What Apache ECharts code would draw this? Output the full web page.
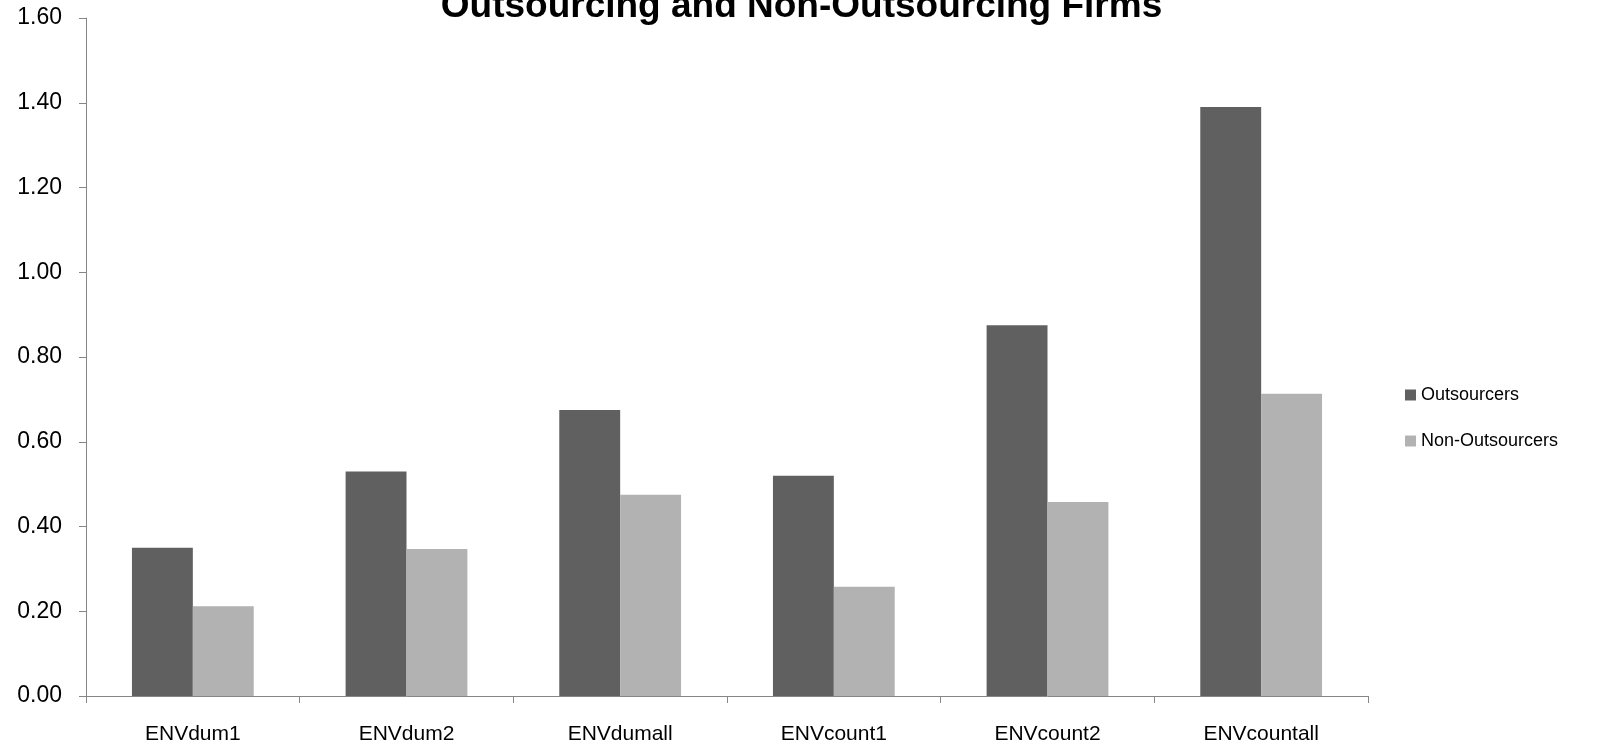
<!DOCTYPE html>
<html>
<head>
<meta charset="utf-8">
<script src="https://cdn.jsdelivr.net/npm/echarts@6/dist/echarts.min.js"></script>
<style>html,body{margin:0;padding:0;background:#fff;}#c{width:1603px;height:751px;}</style>
</head>
<body>
<div id="c"></div>
<script>
const categories = ['ENVdum1','ENVdum2','ENVdumall','ENVcount1','ENVcount2','ENVcountall'];
const outsourcers = [0.35, 0.53, 0.675, 0.52, 0.875, 1.39];
const nonOutsourcers = [0.212, 0.347, 0.475, 0.258, 0.458, 0.713];
const seriesNames = ['Outsourcers','Non-Outsourcers'];
const titleText = 'Outsourcing and Non-Outsourcing Firms';

const font = 'Liberation Sans';
const chart = echarts.init(document.getElementById('c'));
chart.setOption({
  animation: false,
  backgroundColor: '#fff',
  title: {
    text: titleText, left: 'center', top: -17,
    textStyle: {fontFamily: font, fontWeight: 'bold', fontSize: 37, color: '#000'}
  },
  grid: {left: 86, right: 235, top: 18, bottom: 55, containLabel: false},
  legend: {
    orient: 'vertical', left: 1400, top: 381,
    icon: 'rect',
    itemWidth: 11, itemHeight: 11, itemGap: 28,
    textStyle: {fontFamily: font, fontSize: 18, color: '#000'},
    data: seriesNames
  },
  xAxis: {
    type: 'category', data: categories,
    axisLine: {lineStyle: {color: '#868686', width: 1}},
    axisTick: {show: true, length: 7, lineStyle: {color: '#868686'}},
    axisLabel: {fontFamily: font, fontSize: 21, color: '#000', margin: 28}
  },
  yAxis: {
    type: 'value', min: 0, max: 1.6, interval: 0.2,
    splitLine: {show: false},
    axisLine: {show: true, lineStyle: {color: '#868686', width: 1}},
    axisTick: {show: true, length: 7, lineStyle: {color: '#868686'}},
    axisLabel: {fontFamily: font, fontSize: 23, color: '#000', margin: 24,
      formatter: v => v.toFixed(2)}
  },
  series: [
    {name: seriesNames[0], type: 'bar', data: outsourcers, barGap: '0%', barCategoryGap: '43%',
     itemStyle: {color: '#606060'}},
    {name: seriesNames[1], type: 'bar', data: nonOutsourcers,
     itemStyle: {color: '#b2b2b2'}}
  ]
});
</script>
</body>
</html>
